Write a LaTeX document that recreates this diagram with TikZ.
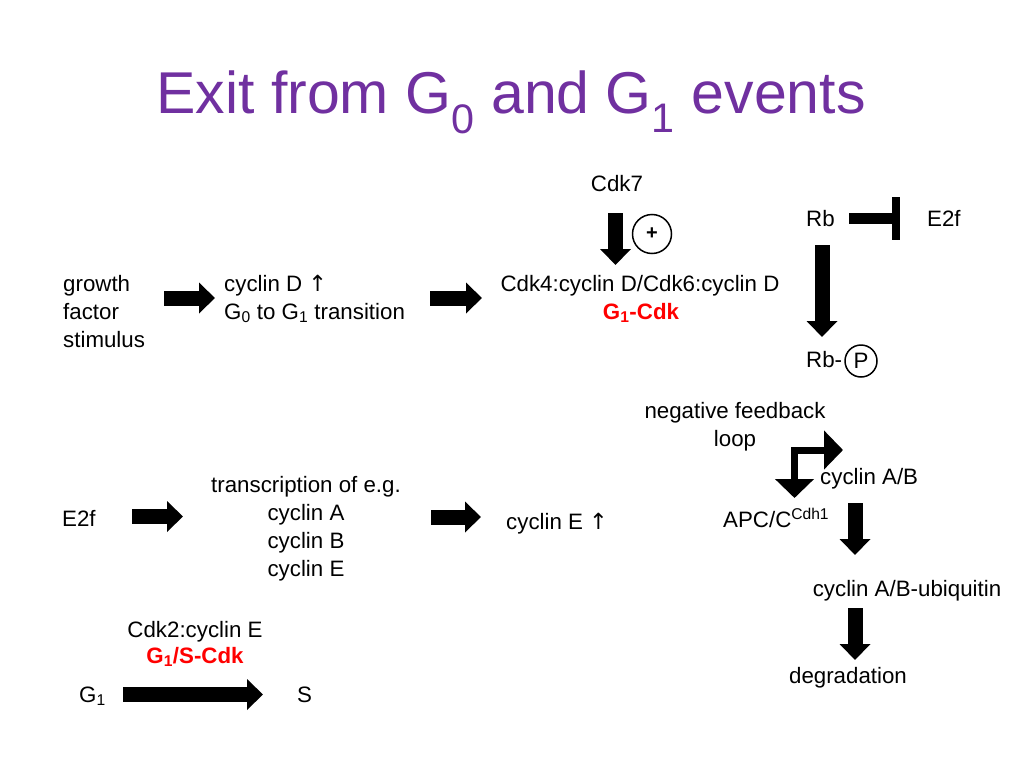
\documentclass[tikz,border=0pt]{standalone}
\usepackage{fontspec}
\setmainfont{Liberation Sans}
\newfontfamily\dejavu{DejaVu Sans}
\usetikzlibrary{arrows.meta}
\definecolor{titlepurple}{RGB}{112,48,160}
\definecolor{cdkred}{RGB}{255,0,0}
\newcommand\uparr{{\dejavu ↑}}
\begin{document}
\begin{tikzpicture}[x=1pt,y=-1pt,
  every node/.style={inner sep=0pt, font=\fontsize{22.3}{28}\selectfont},
  lbl/.style={anchor=base west, align=left},
  ctr/.style={anchor=base, align=center},
  redlbl/.style={anchor=base, text=cdkred, font=\fontsize{22.3}{28}\selectfont\bfseries},
  fat/.style={line width=15pt, -{Triangle[width=30pt,length=16pt]}},
  thinfat/.style={line width=7pt, {Triangle[width=38pt,length=19pt]}-{Triangle[width=38pt,length=19pt]}},
  ring/.style={draw, circle, line width=1.5pt}
]
\useasboundingbox (0,0) rectangle (1024,768);
\fill[white] (0,0) rectangle (1024,768);

% title
\node[anchor=base, text=titlepurple, font=\fontsize{59}{70}\selectfont] (title) at (511,113)
  {Exit from G\textsubscript{0} and G\textsubscript{1} events};

% top row (multi-line nodes are anchored at the baseline of their last line)
\node[ctr] (cdk7) at (617,191) {Cdk7};
\node[ring, minimum size=39pt, font=\fontsize{20}{24}\selectfont\bfseries] (plus) at (652,234) {+};
\node[lbl] (growth) at (63,347) {growth\\factor\\stimulus};
\node[lbl] (cycD) at (224,319) {cyclin D \uparr\\G\textsubscript{0} to G\textsubscript{1} transition};
\node[ctr] (cdk46) at (640,291) {Cdk4:cyclin D/Cdk6:cyclin D};
\node[redlbl] (g1cdk) at (641,319) {G\textsubscript{1}-Cdk};

\coordinate (a1s) at (164,298); \coordinate (a1e) at (215,298);
\coordinate (a2s) at (430,298); \coordinate (a2e) at (482,298);
\coordinate (a7s) at (615.5,213); \coordinate (a7e) at (615.5,265);
\draw[fat] (a1s) -- (a1e);
\draw[fat] (a2s) -- (a2e);
\draw[fat] (a7s) -- (a7e);

% Rb
\node[lbl] (rb) at (806,226) {Rb};
\node[lbl] (e2fa) at (927,226) {E2f};
\node[lbl] (rbp) at (806,367) {Rb-};
\node[ring, minimum size=32pt] (pcirc) at (861,361) {P};
\coordinate (ibs) at (849,218.5); \coordinate (ibe) at (892,218.5);
\coordinate (bt) at (896,197); \coordinate (bb) at (896,240);
\draw[line width=11pt] (ibs) -- (ibe);
\draw[line width=8pt] (bt) -- (bb);
\coordinate (rbas) at (822,245); \coordinate (rbae) at (822,337);
\draw[fat] (rbas) -- (rbae);

% negative feedback
\node[ctr] (nfl) at (735,446) {negative feedback\\loop};
\node[lbl] (cycab) at (820,484) {cyclin A/B};
\node[lbl] (apc) at (723,527) {APC/C\textsuperscript{Cdh1}};
\coordinate (elh) at (843,450); \coordinate (elc) at (794.5,450); \coordinate (elv) at (794.5,498);
\draw[thinfat] (elh) -- (elc) -- (elv);
\node[ctr] (ub) at (907,596) {cyclin A/B-ubiquitin};
\node[ctr] (deg) at (848,683) {degradation};
\coordinate (r1s) at (855,503); \coordinate (r1e) at (855,555);
\coordinate (r2s) at (855,608); \coordinate (r2e) at (855,660);
\draw[fat] (r1s) -- (r1e);
\draw[fat] (r2s) -- (r2e);

% second row
\node[lbl] (e2fb) at (62,526) {E2f};
\node[ctr] (trans) at (306,576) {transcription of e.g.\\cyclin A\\cyclin B\\cyclin E};
\node[lbl] (cycE) at (506,529) {cyclin E \uparr};
\coordinate (b1s) at (132,516.5); \coordinate (b1e) at (183,516.5);
\coordinate (b2s) at (431,517); \coordinate (b2e) at (481,517);
\draw[fat] (b1s) -- (b1e);
\draw[fat] (b2s) -- (b2e);

% third row
\node[ctr] (cdk2) at (195,637) {Cdk2:cyclin E};
\node[redlbl] (g1s) at (195,663) {G\textsubscript{1}/S-Cdk};
\node[lbl] (g1) at (79,702) {G\textsubscript{1}};
\node[lbl] (s) at (297,702) {S};
\coordinate (c1s) at (123,694.5); \coordinate (c1e) at (263,694.5);
\draw[fat] (c1s) -- (c1e);
\end{tikzpicture}
\end{document}
